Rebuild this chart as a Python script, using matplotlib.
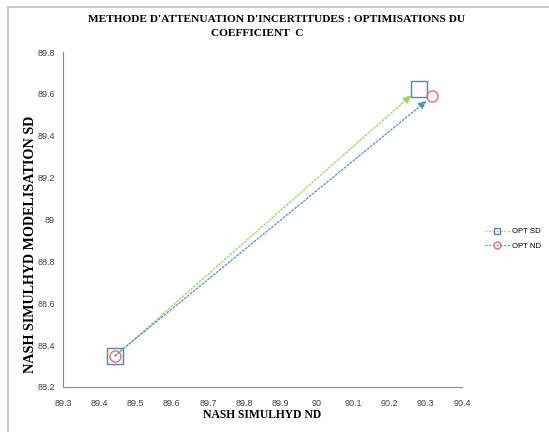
import matplotlib
matplotlib.use("Agg")
import matplotlib.pyplot as plt
from matplotlib.lines import Line2D

# values
sd_x = [89.443, 90.281]
sd_y = [88.346, 89.625]
nd_x = [89.443, 90.318]
nd_y = [88.350, 89.589]
series_names = ["OPT SD", "OPT ND"]

xticks = [89.3, 89.4, 89.5, 89.6, 89.7, 89.8, 89.9, 90.0, 90.1, 90.2, 90.3, 90.4]
yticks = [88.2, 88.4, 88.6, 88.8, 89.0, 89.2, 89.4, 89.6, 89.8]

title1 = "METHODE D'ATTENUATION D'INCERTITUDES : OPTIMISATIONS DU"
title2 = "COEFFICIENT  C"
xlabel = "NASH SIMULHYD ND"
ylabel = "NASH SIMULHYD MODELISATION SD"

green = "#9BD35A"
blue = "#4A8FD8"
sq_col = "#5B7FB8"
circ_col = "#E07070"
tick_col = "#404040"
serif = ["Liberation Serif", "DejaVu Serif"]
sans = ["Liberation Sans", "DejaVu Sans"]

fig = plt.figure(figsize=(5.49, 4.32), dpi=100)
ax = fig.add_axes([63/549, 1-387/432, (462-63)/549, (387-52)/432])

# connecting lines with arrow heads
ax.annotate("", xy=(sd_x[1], sd_y[1]), xytext=(sd_x[0], sd_y[0]),
            arrowprops=dict(arrowstyle="-|>,head_length=0.5,head_width=0.22",
                            color=green, lw=0.9, linestyle=(0, (1.5, 1.5)),
                            shrinkA=0, shrinkB=7))
ax.annotate("", xy=(nd_x[1], nd_y[1]), xytext=(nd_x[0], nd_y[0]),
            arrowprops=dict(arrowstyle="-|>,head_length=0.5,head_width=0.22",
                            color=blue, lw=0.9, linestyle=(0, (1.5, 1.5)),
                            shrinkA=0, shrinkB=5))

ax.plot(sd_x, sd_y, linestyle="none", marker="s", markersize=11.5,
        mfc="none", mec=sq_col, mew=1.0)
ax.plot(nd_x, nd_y, linestyle="none", marker="o", markersize=8,
        mfc="none", mec=circ_col, mew=1.0)

ax.set_xlim(89.3, 90.4)
ax.set_ylim(88.2, 89.8)
ax.set_xticks(xticks)
ax.set_yticks(yticks)
ax.set_xticklabels(["%g" % v for v in xticks], family=sans)
ax.set_yticklabels(["%g" % v for v in yticks], family=sans)
ax.tick_params(length=0, labelsize=6.5, colors=tick_col)
ax.tick_params(axis="x", pad=9)
ax.tick_params(axis="y", pad=5.8)
for s in ["top", "right"]:
    ax.spines[s].set_visible(False)
for s in ["left", "bottom"]:
    ax.spines[s].set_color("#8C8C8C")
    ax.spines[s].set_linewidth(0.8)

fig.text(277/549, 1-19/432, title1, ha="center", va="center",
         family=serif, weight="bold", fontsize=8.2)
fig.text(257/549, 1-34/432, title2, ha="center", va="center",
         family=serif, weight="bold", fontsize=8.2)
fig.text(262/549, 1-415/432, xlabel, ha="center", va="center",
         family=serif, weight="bold", fontsize=8.4)
fig.text(31/549, 1-244/432, ylabel, ha="center", va="center", rotation=90,
         family=serif, weight="bold", fontsize=10.2)

handles = [
    Line2D([], [], color=green, lw=0.9, linestyle=(0, (1.5, 1.5)), marker="s",
           markersize=5, mfc="none", mec=sq_col),
    Line2D([], [], color=blue, lw=0.9, linestyle=(0, (1.5, 1.5)), marker="o",
           markersize=5, mfc="none", mec=circ_col),
]
fig.legend(handles, series_names, loc="center left",
           bbox_to_anchor=(478/549, 1-239/432), frameon=False,
           prop=dict(family=sans, size=5.6), handlelength=3.2,
           labelspacing=0.9, handletextpad=0.3)

# chart area border (top and left edges visible)
fig.add_artist(Line2D([8/549, 1], [1-7/432, 1-7/432], color="#BFBFBF", lw=1.2))
fig.add_artist(Line2D([8/549, 8/549], [0, 1-7/432], color="#BFBFBF", lw=1.2))

fig.savefig("out.png", dpi=100)
